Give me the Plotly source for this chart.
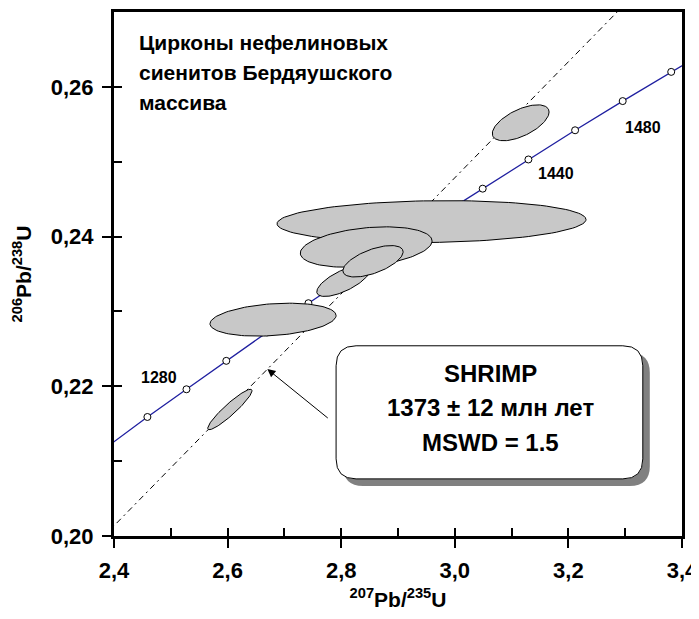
import numpy as np
import plotly.graph_objects as go

# ---- data ----
# concordia nodes (every 20 Ma, 1240..1520)
conc_age = [1240, 1260, 1280, 1300, 1320, 1340, 1360, 1380, 1400, 1420, 1440, 1460, 1480, 1500, 1520]
conc_x = [2.3913, 2.4588, 2.5276, 2.5977, 2.6693, 2.7423, 2.8167, 2.8927, 2.9701, 3.0491, 3.1296, 3.2118, 3.2956, 3.3810, 3.4681]
conc_y = [0.2121, 0.2159, 0.2196, 0.2234, 0.2272, 0.2311, 0.2349, 0.2387, 0.2426, 0.2464, 0.2503, 0.2542, 0.2581, 0.2620, 0.2659]

# age labels on the concordia
lab_text = ["1280", "1440", "1480"]
lab_x = [2.479, 3.179, 3.332]
lab_y = [0.2212, 0.2484, 0.2546]

# discordia line
disc_x = [2.385, 3.300]
disc_y = [0.2002, 0.2711]

# error ellipses: centre, half-extent in x and y, correlation
ell_cx = [3.116, 2.959, 2.844, 2.804, 2.856, 2.680, 2.604]
ell_cy = [0.2552, 0.2420, 0.2386, 0.2341, 0.2367, 0.2289, 0.2169]
ell_sx = [0.050, 0.272, 0.116, 0.047, 0.053, 0.111, 0.039]
ell_sy = [0.0024, 0.0028, 0.0027, 0.0021, 0.0021, 0.0022, 0.0027]
ell_rho = [0.60, 0.10, 0.30, 0.70, 0.60, 0.25, 0.93]

x_ticks = [2.4, 2.6, 2.8, 3.0, 3.2, 3.4]
x_ticktext = ["2,4", "2,6", "2,8", "3,0", "3,2", "3,4"]
x_minor = [2.5, 2.7, 2.9, 3.1, 3.3]
y_ticks = [0.20, 0.22, 0.24, 0.26]
y_ticktext = ["0,20", "0,22", "0,24", "0,26"]
y_minor = [0.21, 0.23, 0.25]

title_lines = ["Цирконы нефелиновых", "сиенитов Бердяушского", "массива"]
box_lines = ["SHRIMP", "1373 ± 12 млн лет", "MSWD = 1.5"]

# ---- figure ----
FONT = "Liberation Sans, Arial, sans-serif"
fig = go.Figure()

# concordia
fig.add_trace(go.Scatter(
    x=conc_x, y=conc_y, mode="lines+markers",
    line=dict(color="#1f1fa0", width=1.3),
    marker=dict(size=7, color="white", line=dict(color="black", width=1)),
    hoverinfo="skip", showlegend=False))

# discordia
fig.add_trace(go.Scatter(
    x=disc_x, y=disc_y, mode="lines",
    line=dict(color="black", width=1, dash="6px,4px,2px,4px"),
    hoverinfo="skip", showlegend=False))

# ellipses
phi = np.linspace(0, 2 * np.pi, 121)
for cx, cy, sx, sy, r in zip(ell_cx, ell_cy, ell_sx, ell_sy, ell_rho):
    ex = cx + sx * np.cos(phi)
    ey = cy + sy * (r * np.cos(phi) + np.sqrt(1 - r * r) * np.sin(phi))
    fig.add_trace(go.Scatter(
        x=ex, y=ey, mode="lines", fill="toself", fillcolor="#c8c8c8",
        line=dict(color="black", width=1), hoverinfo="skip", showlegend=False))

# invisible trace for the overlay axes (inner tick marks)
fig.add_trace(go.Scatter(x=[None], y=[None], xaxis="x2", yaxis="y2",
                         showlegend=False, hoverinfo="skip"))

# age labels
for t, x, y in zip(lab_text, lab_x, lab_y):
    fig.add_annotation(x=x, y=y, text="<b>%s</b>" % t, showarrow=False,
                       font=dict(family=FONT, size=16, color="black"))

# title text (top-left)
for i, s in enumerate(title_lines):
    fig.add_annotation(xref="paper", yref="paper", x=0.041, y=0.941 - i * 0.0573,
                       xanchor="left", yanchor="middle", text="<b>%s</b>" % s,
                       showarrow=False, font=dict(family=FONT, size=21, color="black"))

# rounded box with shadow
def rrect(x0, y0, x1, y1, rx, ry):
    return (f"M {x0+rx},{y0} L {x1-rx},{y0} Q {x1},{y0} {x1},{y0+ry} "
            f"L {x1},{y1-ry} Q {x1},{y1} {x1-rx},{y1} L {x0+rx},{y1} "
            f"Q {x0},{y1} {x0},{y1-ry} L {x0},{y0+ry} Q {x0},{y0} {x0+rx},{y0} Z")

bx0, bx1, by0, by1 = 0.391, 0.931, 0.109, 0.363
rx, ry = 20 / 568, 20 / 524
dx, dy = 7 / 568, 7 / 524
fig.add_shape(type="path", xref="paper", yref="paper",
              path=rrect(bx0 + dx, by0 - dy, bx1 + dx, by1 - dy, rx, ry),
              fillcolor="#808080", line=dict(width=0))
fig.add_shape(type="path", xref="paper", yref="paper",
              path=rrect(bx0, by0, bx1, by1, rx, ry),
              fillcolor="white", line=dict(color="black", width=1))

for i, s in enumerate(box_lines):
    fig.add_annotation(xref="paper", yref="paper", x=0.662, y=0.311 - i * 0.0665,
                       xanchor="center", yanchor="middle", text="<b>%s</b>" % s,
                       showarrow=False, font=dict(family=FONT, size=24, color="black"))

# arrow pointing at the discordia
fig.add_annotation(x=2.670, y=0.2223, ax=2.779, ay=0.2156, axref="x", ayref="y",
                   text="", showarrow=True, arrowhead=2, arrowsize=1.6,
                   arrowwidth=1, arrowcolor="black")

axis_common = dict(showgrid=False, zeroline=False)
tickfont = dict(family=FONT, size=22, color="black", weight="bold")
titlefont = dict(family=FONT, size=21, color="black", weight="bold")

# the page body adds an 8px margin, so the figure is sized to fill the rest of the window
fig.update_layout(
    width=691, height=611,
    margin=dict(l=106, r=17, t=4, b=83),
    paper_bgcolor="white", plot_bgcolor="white",
    xaxis=dict(range=[2.4, 3.4], tickmode="array", tickvals=x_ticks, ticktext=x_ticktext,
               ticks="outside", ticklen=9, tickwidth=2, tickcolor="black",
               showline=True, linewidth=3, linecolor="black", mirror=True,
               tickfont=tickfont, ticklabelstandoff=4, automargin=False,
               title=dict(text="<sup>207</sup>Pb/<sup>235</sup>U", standoff=10, font=titlefont),
               **axis_common),
    yaxis=dict(range=[0.20, 0.27], tickmode="array", tickvals=y_ticks, ticktext=y_ticktext,
               ticks="outside", ticklen=9, tickwidth=2, tickcolor="black",
               showline=True, linewidth=3, linecolor="black", mirror=True,
               tickfont=tickfont, ticklabelstandoff=4, automargin=False,
               title=dict(text="<sup>206</sup>Pb/<sup>238</sup>U", standoff=14, font=titlefont),
               **axis_common),
    xaxis2=dict(overlaying="x", anchor="y2", side="bottom", range=[2.4, 3.4],
                tickmode="array", tickvals=x_ticks, ticks="inside", ticklen=8,
                tickwidth=2, tickcolor="black", showticklabels=False, showline=False,
                automargin=False,
                minor=dict(tickmode="array", tickvals=x_minor, ticks="inside",
                           ticklen=8, tickwidth=2, tickcolor="black"),
                **axis_common),
    yaxis2=dict(overlaying="y", anchor="x2", side="left", range=[0.20, 0.27],
                tickmode="array", tickvals=y_ticks, ticks="inside", ticklen=8,
                tickwidth=2, tickcolor="black", showticklabels=False, showline=False,
                automargin=False,
                minor=dict(tickmode="array", tickvals=y_minor, ticks="inside",
                           ticklen=8, tickwidth=2, tickcolor="black"),
                **axis_common),
)

fig.write_html("out.html")
